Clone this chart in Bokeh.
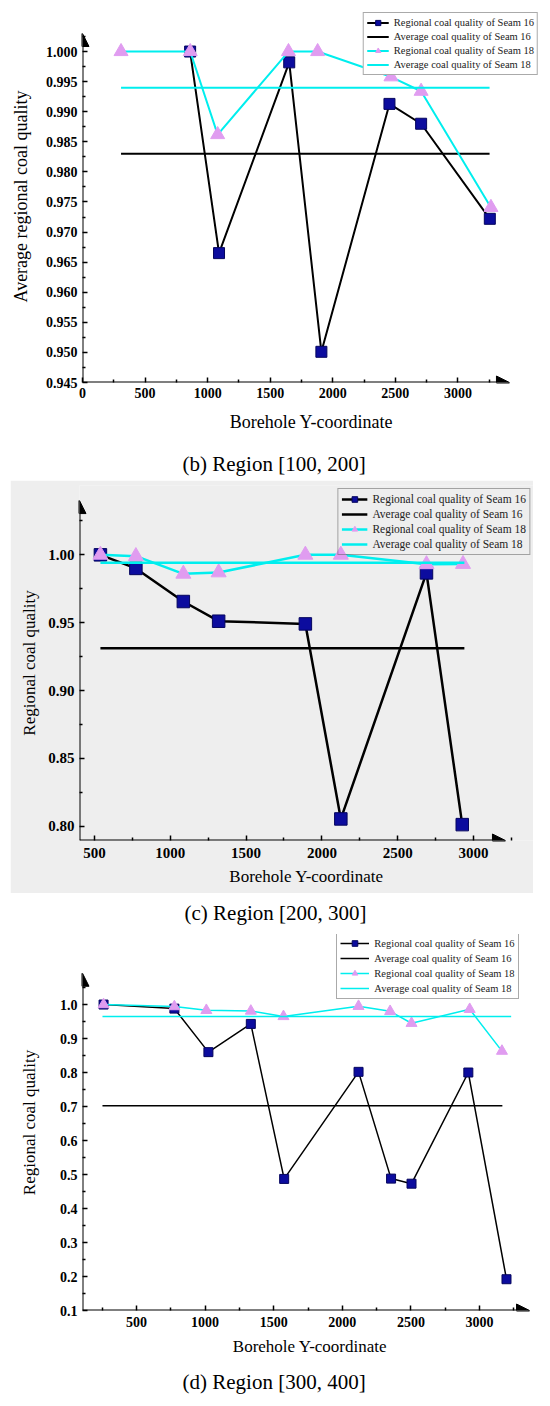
from bokeh.plotting import figure
from bokeh.models import (FixedTicker, PrintfTickFormatter, Arrow, NormalHead,
                          Legend, LegendItem, Label)
from bokeh.layouts import column, row
from bokeh.embed import file_html
from bokeh.resources import INLINE

# ---------------- data ----------------
# (b) Region [100, 200]
b_x16 = [860, 1091, 1652, 1909, 2453, 2706, 3255]
b_y16 = [1.000, 0.9665, 0.9982, 0.9501, 0.9913, 0.9880, 0.9722]
b_x18 = [308, 861, 1080, 1646, 1879, 2465, 2706, 3264]
b_y18 = [1.000, 1.000, 0.9862, 1.000, 1.000, 0.9958, 0.9934, 0.9741]
b_avg16 = 0.9830
b_avg18 = 0.9940
b_avg_x = [308, 3253]

# (c) Region [200, 300]
c_x16 = [539, 773, 1086, 1319, 1891, 2125, 2690, 2926]
c_y16 = [1.000, 0.9900, 0.9656, 0.9511, 0.9491, 0.8054, 0.9867, 0.8012]
c_x18 = [539, 773, 1086, 1319, 1891, 2125, 2690, 2931]
c_y18 = [1.000, 0.9990, 0.9860, 0.9870, 1.000, 1.000, 0.9930, 0.9932]
c_avg16 = 0.9312
c_avg18 = 0.9942
c_avg_x = [539, 2940]

# (d) Region [300, 400]
d_x16 = [260, 776, 1024, 1333, 1576, 2118, 2355, 2504, 2918, 3196]
d_y16 = [1.000, 0.988, 0.860, 0.943, 0.487, 0.802, 0.488, 0.473, 0.800, 0.192]
d_x18 = [260, 776, 1009, 1333, 1571, 2118, 2348, 2504, 2928, 3163]
d_y18 = [1.000, 0.994, 0.983, 0.981, 0.965, 0.995, 0.980, 0.945, 0.986, 0.863]
d_avg16 = 0.702
d_avg16_x = [252, 3166]
d_avg18 = 0.965
d_avg18_x = [252, 3230]

x_ticks_b = [0, 500, 1000, 1500, 2000, 2500, 3000]
x_ticks = [500, 1000, 1500, 2000, 2500, 3000]
x_minor = [250, 750, 1250, 1750, 2250, 2750, 3250]
y_ticks_b = [0.945, 0.950, 0.955, 0.960, 0.965, 0.970, 0.975, 0.980, 0.985, 0.990, 0.995, 1.000]
y_ticks_c = [0.80, 0.85, 0.90, 0.95, 1.00]
y_ticks_d = [0.1, 0.2, 0.3, 0.4, 0.5, 0.6, 0.7, 0.8, 0.9, 1.0]

labels = ["Regional coal quality of Seam 16", "Average coal quality of Seam 16",
          "Regional coal quality of Seam 18", "Average coal quality of Seam 18"]
captions = ["(b) Region [100, 200]", "(c) Region [200, 300]", "(d) Region [300, 400]"]

SQ_FILL = "#0c0c9e"
SQ_LINE = "#05055e"
TRI_FILL = "#e09cf0"
CYAN = "#00eeee"
SERIF = "Liberation Serif"


def make_panel(xr, yr, x_tip, y_tip, fw, fh, borders, xt, yt, y_minor, yfmt,
               ylab, tick_fs, lab_fs, ylab_standoff, xlab_standoff, tick_standoff,
               bg="white"):
    top, right, bottom, left = borders
    p = figure(frame_width=fw, frame_height=fh, x_range=xr, y_range=yr,
               output_backend="svg", toolbar_location=None, title=None,
               min_border_top=top, min_border_right=right,
               min_border_bottom=bottom, min_border_left=left)
    p.background_fill_color = bg
    p.border_fill_color = bg
    p.outline_line_color = None
    p.xgrid.visible = False
    p.ygrid.visible = False
    for ax in (p.xaxis[0], p.yaxis[0]):
        ax.axis_line_color = None
        ax.major_tick_in = 5
        ax.major_tick_out = 0
        ax.minor_tick_in = 3
        ax.minor_tick_out = 0
        ax.major_tick_line_width = 1.5
        ax.minor_tick_line_width = 1.5
        ax.major_label_text_font = SERIF
        ax.major_label_text_font_style = "bold"
        ax.major_label_text_font_size = tick_fs
        ax.major_label_text_color = "black"
        ax.axis_label_text_font = SERIF
        ax.axis_label_text_font_style = "normal"
        ax.axis_label_text_font_size = lab_fs
        ax.axis_label_text_color = "black"
    p.xaxis.major_label_standoff = tick_standoff
    p.yaxis.major_label_standoff = 5
    p.xaxis.ticker = FixedTicker(ticks=xt, minor_ticks=x_minor)
    p.yaxis.ticker = FixedTicker(ticks=yt, minor_ticks=y_minor)
    p.yaxis.formatter = PrintfTickFormatter(format=yfmt)
    p.xaxis.axis_label = "Borehole Y-coordinate"
    p.yaxis.axis_label = ylab
    p.yaxis.axis_label_standoff = ylab_standoff
    p.xaxis.axis_label_standoff = xlab_standoff
    # axes with arrow heads
    p.add_layout(Arrow(end=NormalHead(size=13, fill_color="black", line_color="black"),
                       x_start=xr[0], y_start=yr[0], x_end=x_tip, y_end=yr[0],
                       line_width=2, line_color="black"))
    p.add_layout(Arrow(end=NormalHead(size=13, fill_color="black", line_color="black"),
                       x_start=xr[0], y_start=yr[0], x_end=xr[0], y_end=y_tip,
                       line_width=2, line_color="black"))
    return p


def add_series(p, x16, y16, x18, y18, ax16, a16, ax18, a18, lw, sq, tri, loc, lab_fs,
               gw, row_h, margin):
    l16 = p.line(x16, y16, line_color="black", line_width=lw)
    s16 = p.scatter(x16, y16, marker="square", size=sq, fill_color=SQ_FILL,
                    line_color=SQ_LINE, line_width=1)
    la16 = p.line(ax16, [a16, a16], line_color="black", line_width=lw)
    l18 = p.line(x18, y18, line_color=CYAN, line_width=lw)
    s18 = p.scatter(x18, y18, marker="triangle", size=tri, fill_color=TRI_FILL,
                    line_color=TRI_FILL, line_width=1)
    la18 = p.line(ax18, [a18, a18], line_color=CYAN, line_width=lw)
    items = [LegendItem(label=labels[0], renderers=[l16, s16]),
             LegendItem(label=labels[1], renderers=[la16]),
             LegendItem(label=labels[2], renderers=[l18, s18]),
             LegendItem(label=labels[3], renderers=[la18])]
    leg = Legend(items=items, location=loc, label_text_font=SERIF,
                 label_text_font_size=lab_fs, label_text_color="#222222",
                 glyph_width=gw, glyph_height=row_h, label_height=row_h, spacing=1,
                 padding=3, margin=margin, label_standoff=5,
                 border_line_color="#555555", border_line_width=1,
                 background_fill_color="white", background_fill_alpha=1.0)
    p.add_layout(leg, "center")
    return leg


def caption_fig(text, height, y_center_from_top, x_left):
    c = figure(width=545, height=height, x_axis_type=None, y_axis_type=None,
               x_range=(0, 1), y_range=(0, 1), output_backend="svg",
               toolbar_location=None, title=None, min_border=0)
    c.outline_line_color = None
    c.xgrid.visible = False
    c.ygrid.visible = False
    c.add_layout(Label(x=x_left, y=height - y_center_from_top, x_units="screen",
                       y_units="screen", text=text, text_font=SERIF,
                       text_font_size="21px", text_color="black",
                       text_align="left", text_baseline="middle"))
    return c


# ---------------- (b) ----------------
# frame: left 82, top 10, bottom 382, right 540
pb = make_panel((0, 3660), (0.945, 1.00682), 3412, 1.0030, 458, 372, (10, 0, 58, 82),
                x_ticks_b, y_ticks_b,
                [0.9475, 0.9525, 0.9575, 0.9625, 0.9675, 0.9725, 0.9775, 0.9825, 0.9875,
                 0.9925, 0.9975, 1.0025],
                "%.3f", "Average regional coal quality", "14px", "18px", 12, 11, 5)
add_series(pb, b_x16, b_y16, b_x18, b_y18, b_avg_x, b_avg16, b_avg_x, b_avg18,
           2, 11, 14, "top_right", "10.5px", 22, 13, 2)
cap_b = caption_fig(captions[0], 40, 23, 100)

# ---------------- (c) ----------------
# frame: left 79, top 485, bottom 840, right 533
pc = make_panel((401, 3396), (0.7895, 1.0511), 3211, 1.040, 454, 355, (5, 0, 53, 69),
                x_ticks, y_ticks_c, [0.825, 0.875, 0.925, 0.975, 1.025],
                "%.2f", "Regional coal quality", "15px", "17px", 6, 6, 7, bg="#eeeeee")
pc.margin = (0, 0, 0, 10)
lc = add_series(pc, c_x16, c_y16, c_x18, c_y18, c_avg_x, c_avg16, c_avg_x, c_avg18,
                2.5, 12.5, 15, "top_right", "11.5px", 26, 14, 3)
lc.background_fill_alpha = 0.0
cap_c = caption_fig(captions[1], 32, 19, 102)

# ---------------- (d) ----------------
# frame: left 79, top 934, bottom 1310, right 534
pd_ = make_panel((106.5, 3422), (0.1, 1.206), 3364, 1.092, 455, 376, (9, 0, 53, 79),
                 x_ticks, y_ticks_d,
                 [0.15, 0.25, 0.35, 0.45, 0.55, 0.65, 0.75, 0.85, 0.95, 1.05],
                 "%.1f", "Regional coal quality", "14px", "17px", 18, 7, 6)
add_series(pd_, d_x16, d_y16, d_x18, d_y18, d_avg16_x, d_avg16, d_avg18_x, d_avg18,
           1.5, 9, 11, (266, 311), "10.5px", 29, 14, 0)
cap_d = caption_fig(captions[2], 41, 18, 100)

layout = column(pb, cap_b, row(pc), cap_c, pd_, cap_d, spacing=0)
open("out.html", "w").write(file_html(layout, INLINE))
